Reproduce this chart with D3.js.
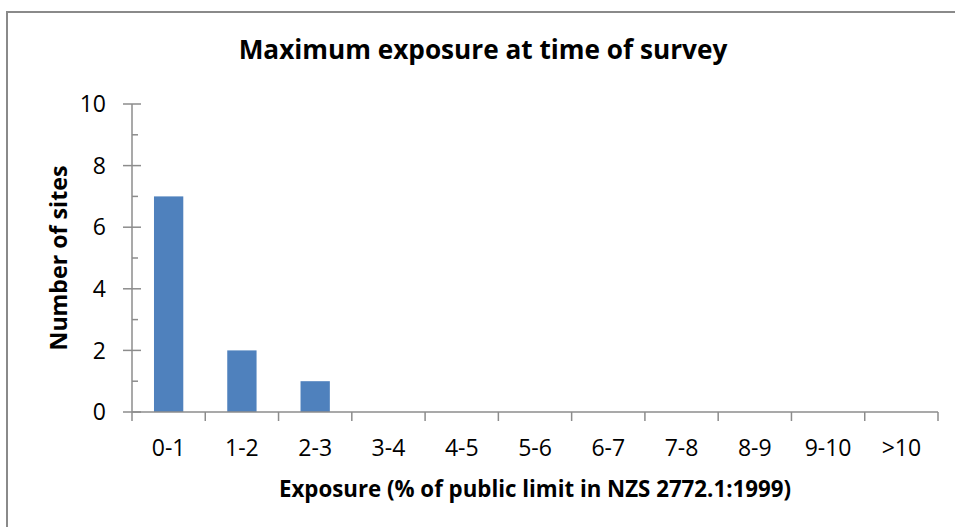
<!DOCTYPE html>
<html>
<head>
<meta charset="utf-8">
<script src="https://cdn.jsdelivr.net/npm/d3@7"></script>
<style>
  body { margin: 0; background: #fff; }
  svg { display: block; font-family: "Open Sans", sans-serif; }
</style>
</head>
<body>
<div id="chart"></div>
<script>
(function() {

  var categories = ['0-1', '1-2', '2-3', '3-4', '4-5', '5-6', '6-7', '7-8', '8-9', '9-10', '>10'];
  var sites = [7, 2, 1, 0, 0, 0, 0, 0, 0, 0, 0];
  var yTicks = [0, 2, 4, 6, 8, 10];
  var yMinorTicks = [1, 3, 5, 7, 9];

  var width = 955,
      height = 527;
  var plot = { left: 132, right: 938, top: 104, bottom: 412 };
  var axisColor = '#8c8c8c';

  var svg = d3.select('#chart')
    .append('svg')
    .attr('width', width)
    .attr('height', height);

  // chart border (runs off the right and bottom edges)
  svg.append('rect')
    .attr('x', 7)
    .attr('y', 12)
    .attr('width', 970)
    .attr('height', 540)
    .attr('fill', 'none')
    .attr('stroke', '#8a8a8a')
    .attr('stroke-width', 2);

  var x = d3.scaleBand()
    .domain(categories)
    .range([plot.left, plot.right])
    .paddingInner(0.6)
    .paddingOuter(0.3);

  var xOuter = d3.scaleBand()
    .domain(categories)
    .range([plot.left, plot.right]);

  var y = d3.scaleLinear()
    .domain([0, 10])
    .range([plot.bottom, plot.top]);

  // bars
  svg.append('g')
    .selectAll('rect')
    .data(sites)
    .enter()
    .append('rect')
    .attr('x', function(d, i) { return x(categories[i]); })
    .attr('width', x.bandwidth())
    .attr('y', function(d) { return y(d); })
    .attr('height', function(d) { return y(0) - y(d); })
    .attr('fill', '#4f81bd');

  // y axis
  var yAxis = svg.append('g');
  yAxis.append('line')
    .attr('x1', plot.left).attr('x2', plot.left)
    .attr('y1', y(10)).attr('y2', y(0))
    .attr('stroke', axisColor).attr('stroke-width', 1.5);

  yAxis.selectAll('.major')
    .data(yTicks)
    .enter()
    .append('line')
    .attr('x1', plot.left - 9).attr('x2', plot.left + 9)
    .attr('y1', function(d) { return y(d); })
    .attr('y2', function(d) { return y(d); })
    .attr('stroke', axisColor).attr('stroke-width', 1.5);

  yAxis.selectAll('.minor')
    .data(yMinorTicks)
    .enter()
    .append('line')
    .attr('x1', plot.left).attr('x2', plot.left + 6)
    .attr('y1', function(d) { return y(d); })
    .attr('y2', function(d) { return y(d); })
    .attr('stroke', axisColor).attr('stroke-width', 1.5);

  yAxis.selectAll('text')
    .data(yTicks)
    .enter()
    .append('text')
    .attr('x', 106)
    .attr('y', function(d) { return y(d); })
    .attr('dy', '0.36em')
    .attr('text-anchor', 'end')
    .style('font-size', '23px')
    .style('fill', '#000')
    .text(function(d) { return d; });

  // x axis
  var xAxis = svg.append('g');
  xAxis.append('line')
    .attr('x1', plot.left).attr('x2', plot.right)
    .attr('y1', y(0)).attr('y2', y(0))
    .attr('stroke', axisColor).attr('stroke-width', 1.5);

  xAxis.selectAll('.tick')
    .data(categories.concat(['end']))
    .enter()
    .append('line')
    .attr('x1', function(d, i) { return plot.left + i * xOuter.step(); })
    .attr('x2', function(d, i) { return plot.left + i * xOuter.step(); })
    .attr('y1', y(0))
    .attr('y2', y(0) + 9)
    .attr('stroke', axisColor).attr('stroke-width', 1.5);

  xAxis.selectAll('text')
    .data(categories)
    .enter()
    .append('text')
    .attr('x', function(d) { return xOuter(d) + xOuter.bandwidth() / 2; })
    .attr('y', 456)
    .attr('text-anchor', 'middle')
    .style('font-size', '23px')
    .style('fill', '#000')
    .text(function(d) { return d; });

  // titles
  addTitle(svg, 'Maximum exposure at time of survey', 483, 59, 0, 489, 22);
  addTitle(svg, 'Exposure (% of public limit in NZS 2772.1:1999)', (plot.left + plot.right) / 2, 497, 0, 512, 19);
  addTitle(svg, 'Number of sites', 67, (plot.top + plot.bottom) / 2, -90, 185, 19);

  function addTitle(svg, title, cx, cy, angle, targetWidth, size) {
    var t = svg.append('text')
      .attr('transform', 'translate(' + cx + ',' + cy + ') rotate(' + angle + ')')
      .attr('text-anchor', 'middle')
      .style('font-weight', 'bold')
      .style('font-size', size + 'px')
      .style('fill', '#000')
      .text(title);
    var w = t.node().getComputedTextLength();
    if (w > 0) {
      t.style('font-size', (size * targetWidth / w).toFixed(2) + 'px');
    }
  }
})();
</script>
</body>
</html>
